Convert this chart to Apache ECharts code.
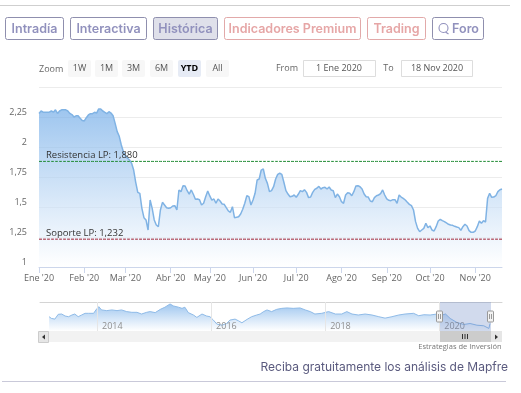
<!DOCTYPE html>
<html>
<head>
<meta charset="utf-8">
<style>html,body{margin:0;padding:0;background:#fff}#chart{width:521px;height:393px}</style>
<script src="https://cdn.jsdelivr.net/npm/echarts@6/dist/echarts.min.js"></script>
</head>
<body>
<div id="chart"></div>
<script>
// precios de cierre, un array por mes
var ene = [2.28,2.30,2.29,2.29,2.29,2.29,2.30,2.29,2.31,2.28,2.30,2.31,2.31,2.31,2.30,2.28,2.27,2.25,2.26,2.26,2.24,2.22];
var feb = [2.217,2.244,2.267,2.278,2.278,2.289,2.283,2.317,2.317,2.30,2.289,2.278,2.294,2.283,2.261,2.197,2.128,2.089,2.017,1.961];
var mar = [1.928,1.906,1.892,1.864,1.808,1.706,1.622,1.614,1.489,1.411,1.392,1.308,1.558,1.489,1.392,1.35,1.336,1.475,1.539,1.517,1.494,1.489];
var abr = [1.494,1.508,1.511,1.475,1.642,1.628,1.678,1.675,1.636,1.608,1.642,1.606,1.564,1.567,1.561,1.517,1.531,1.586,1.633];
var may = [1.592,1.558,1.567,1.531,1.567,1.55,1.525,1.522,1.494,1.467,1.456,1.503,1.411,1.414,1.419,1.442,1.481,1.531,1.594,1.586,1.517];
var jun = [1.558,1.614,1.725,1.733,1.808,1.817,1.739,1.697,1.628,1.636,1.669,1.733,1.772,1.781,1.772,1.706,1.636,1.608,1.586,1.589,1.6];
var jul = [1.581,1.606,1.636,1.628,1.644,1.622,1.578,1.583,1.622,1.647,1.656,1.672,1.65,1.661,1.664,1.65,1.667,1.642,1.636,1.578,1.608,1.586];
var ago = [1.544,1.531,1.6,1.619,1.614,1.594,1.628,1.675,1.678,1.669,1.65,1.608,1.586,1.583,1.55,1.544,1.578,1.594,1.6,1.611,1.642,1.6];
var sep = [1.567,1.556,1.553,1.561,1.561,1.531,1.6,1.583,1.572,1.558,1.539,1.522,1.511,1.475,1.378,1.322,1.294,1.308,1.322,1.364,1.328];
var oct = [1.342,1.308,1.3,1.336,1.383,1.397,1.386,1.378,1.367,1.356,1.35,1.347,1.339,1.333,1.328,1.306,1.336,1.356,1.342,1.303,1.289,1.289];
var nov = [1.3,1.336,1.383,1.364,1.386,1.375,1.572,1.614,1.581,1.583,1.594,1.628,1.644,1.65];

var monthNames = ["Ene '20","Feb '20","Mar '20","Abr '20","May '20","Jun '20","Jul '20","Ago '20","Sep '20","Oct '20","Nov '20"];
var months = [ene,feb,mar,abr,may,jun,jul,ago,sep,oct,nov];

var yTicks = [1,1.25,1.5,1.75,2,2.25];
var yTickLabels = ['1','1,25','1,5','1,75','2','2,25'];

var resistencia = 1.88;
var resistenciaLabel = 'Resistencia LP: 1,880';
var soporte = 1.232;
var soporteLabel = 'Soporte LP: 1,232';

// navegador: historico completo
var navYears = [2013.16,2013.20,2013.26,2013.32,2013.38,2013.44,2013.50,2013.56,2013.61,2013.67,2013.73,2013.79,2013.85,2013.94,2013.98,
  2014.03,2014.08,2014.17,2014.26,2014.35,2014.43,2014.52,2014.61,2014.70,2014.78,2014.87,2014.93,
  2015.02,2015.11,2015.19,2015.28,2015.34,2015.43,2015.49,2015.54,2015.60,2015.69,2015.75,2015.84,2015.92,2015.98,
  2016.04,2016.10,2016.19,2016.27,2016.33,2016.42,2016.48,2016.54,2016.63,2016.71,2016.80,2016.86,2016.92,2016.98,
  2017.06,2017.15,2017.24,2017.33,2017.44,2017.56,2017.65,2017.74,2017.82,2017.94,
  2018.06,2018.18,2018.29,2018.38,2018.47,2018.58,2018.70,2018.82,2018.94,
  2019.05,2019.17,2019.29,2019.40,2019.55,2019.64,2019.73,2019.84,2019.96,
  2020.05,2020.11,2020.19,2020.31,2020.43,2020.54,2020.66,2020.78,2020.87,2020.89];
var navValues = [2.11,1.99,1.94,2.28,2.30,2.16,2.11,2.23,2.30,2.11,2.23,2.35,2.35,2.35,2.59,
  2.82,2.59,2.54,2.59,2.54,2.59,2.47,2.42,2.42,2.30,2.42,2.47,
  2.40,2.63,2.78,3.01,2.87,2.78,2.70,2.78,2.40,2.23,2.06,2.30,2.16,2.11,
  1.87,1.59,1.51,1.63,1.87,1.94,1.82,1.68,1.92,2.11,2.23,2.30,2.47,2.59,
  2.47,2.63,2.70,2.73,2.70,2.73,2.59,2.47,2.30,2.35,
  2.47,2.30,2.30,2.47,2.30,2.23,2.30,2.23,2.11,
  2.01,2.11,2.23,2.30,2.35,2.18,2.25,2.23,2.30,
  2.23,2.30,1.99,1.70,1.56,1.63,1.51,1.47,1.28,1.63];
var navTicks = [2014,2016,2018,2020];

var tabs = [
  {name:'Intradía', x:5.5, w:58, premium:false},
  {name:'Interactiva', x:70.5, w:76, premium:false},
  {name:'Histórica', x:153.5, w:64, premium:false, active:true},
  {name:'Indicadores Premium', x:224.5, w:136, premium:true},
  {name:'Trading', x:367.5, w:58, premium:true},
  {name:'Foro', x:432.5, w:51, premium:false, icon:true}
];
var rangeButtons = [
  {name:'1W', x:68}, {name:'1M', x:95}, {name:'3M', x:122}, {name:'6M', x:150},
  {name:'YTD', x:178, active:true}, {name:'All', x:206}
];

var categories = [], closes = [], monthStarts = {};
months.forEach(function (m, i) {
  monthStarts[closes.length] = true;
  m.forEach(function (v) {
    categories.push(monthNames[i]);
    closes.push(v);
  });
});

var uiFont = 'Inter';
var chartFont = '"Open Sans"';

var graphics = [];
function rect(x, y, w, h, fill, stroke, r, z) {
  graphics.push({type:'rect', silent:true, z:z || 1, shape:{x:x, y:y, width:w, height:h, r:r || 0}, style:{fill:fill || 'none', stroke:stroke || 'none', lineWidth:1}});
}
function txt(s, x, y, size, color, align, weight, font, z) {
  graphics.push({type:'text', silent:true, z:z || 2, x:x, y:y, style:{text:s, fontSize:size, fill:color, align:align || 'center', verticalAlign:'middle', fontWeight:weight || 'normal', fontFamily:font || chartFont}});
}
function hline(x1, x2, y, color) {
  graphics.push({type:'line', silent:true, shape:{x1:x1, y1:y, x2:x2, y2:y}, style:{stroke:color, lineWidth:1}});
}
// linea de nivel: serie constante
function levelSeries(value, color) {
  return {
    type: 'line', xAxisIndex: 0, yAxisIndex: 0, z: 3, showSymbol: false,
    lineStyle: {color: color, type: [3, 1], width: 1},
    data: closes.map(function () { return value; })
  };
}

hline(0, 510, 5.5, '#cfcfcf');
hline(2, 506, 381.5, '#c9c9d9');

tabs.forEach(function (t) {
  var border = t.premium ? '#e2a9a9' : '#8f8fae';
  var color = t.premium ? '#e6a6a6' : '#9191bd';
  rect(t.x, 17.5, t.w, 22, t.active ? '#dfe0ea' : '#fff', border, 2);
  if (t.icon) {
    graphics.push({type:'circle', silent:true, z:2, shape:{cx:t.x + 11, cy:28, r:4.5}, style:{fill:'none', stroke:color, lineWidth:1.1}});
    graphics.push({type:'line', silent:true, z:2, shape:{x1:t.x + 13, y1:32, x2:t.x + 16, y2:34}, style:{stroke:color, lineWidth:1.1}});
    txt(t.name, t.x + 33, 29, 12.5, color, 'center', 600, uiFont);
  } else {
    txt(t.name, t.x + t.w / 2, 29, 12.5, color, 'center', 600, uiFont);
  }
});

txt('Zoom', 39, 69, 9, '#666', 'left');
rangeButtons.forEach(function (b) {
  rect(b.x, 60, 23, 17, b.active ? '#e6ebf5' : '#f7f7f7', null, 2);
  txt(b.name, b.x + 11.5, 68, 9, b.active ? '#000' : '#555', 'center', b.active ? 'bold' : 'normal');
});
txt('From', 287, 68, 9, '#666');
rect(303.5, 60.5, 72, 16, '#fff', '#ddd');
txt('1 Ene 2020', 339, 68, 9, '#555');
txt('To', 388.5, 68, 9, '#666');
rect(401.5, 60.5, 71, 16, '#fff', '#ddd');
txt('18 Nov 2020', 437, 68, 9, '#555');

// barra de desplazamiento del navegador
rect(39, 331, 463, 11, '#f2f2f2');
rect(38.5, 331.5, 10, 11, '#e6e6e6', '#ccc');
graphics.push({type:'polygon', silent:true, z:2, shape:{points:[[42,337],[45,334.5],[45,339.5]]}, style:{fill:'#333'}});
rect(491, 331, 11, 11, '#e6e6e6');
graphics.push({type:'polygon', silent:true, z:2, shape:{points:[[498,337],[495,334.5],[495,339.5]]}, style:{fill:'#333'}});
rect(440, 331, 51, 11, '#cccccc', null, 0, 2);
[462.5, 465, 467.5].forEach(function (x) {
  graphics.push({type:'line', silent:true, z:3, shape:{x1:x, y1:334, x2:x, y2:339}, style:{stroke:'#333', lineWidth:1}});
});
// ventana seleccionada y tiradores
rect(440, 302, 51, 29, 'rgba(102,133,194,0.3)', null, 0, 50);
[440, 491].forEach(function (x) {
  rect(x - 3.5, 311, 6, 11, '#f2f2f2', '#999', 1, 51);
  graphics.push({type:'line', silent:true, z:52, shape:{x1:x - 1.5, y1:314, x2:x - 1.5, y2:319}, style:{stroke:'#999', lineWidth:1}});
  graphics.push({type:'line', silent:true, z:52, shape:{x1:x + 0.5, y1:314, x2:x + 0.5, y2:319}, style:{stroke:'#999', lineWidth:1}});
});

txt('Estrategias de Inversión', 501.5, 347, 7.5, '#777', 'right');
txt('Reciba gratuitamente los análisis de Mapfre', 508, 367, 12, '#5a5a7e', 'right', 'normal', uiFont);

var chart = echarts.init(document.getElementById('chart'));
chart.setOption({
  animation: false,
  backgroundColor: '#fff',
  textStyle: {fontFamily: chartFont},
  grid: [
    {left: 39, right: 19, top: 87, height: 180},
    {left: 40, right: 19, top: 302, height: 29}
  ],
  xAxis: [
    {
      type: 'category', gridIndex: 0, data: categories, boundaryGap: false,
      axisLine: {lineStyle: {color: '#ccd6eb'}},
      axisTick: {length: 6, lineStyle: {color: '#ccd6eb'}, interval: function (i) { return !!monthStarts[i]; }},
      axisLabel: {color: '#666', fontSize: 9, margin: 7, hideOverlap: false, interval: function (i) { return !!monthStarts[i]; }}
    },
    {
      type: 'value', gridIndex: 1, min: 2013, max: 2021.1, z: 10,
      axisLine: {show: false},
      axisTick: {show: false, customValues: navTicks},
      splitLine: {show: true, lineStyle: {color: '#e6e6e6'}},
      axisLabel: {
        inside: true, customValues: navTicks, color: '#8f8f8f', fontSize: 9, margin: 0, align: 'left', padding: [0, 0, 0, 5],
        formatter: function (v) { return String(v); }
      }
    },
    {
      type: 'value', gridIndex: 1, position: 'top', min: 2013, max: 2021.1,
      axisLine: {show: true, lineStyle: {color: '#d4d4d4'}},
      axisTick: {show: false}, splitLine: {show: false}, axisLabel: {show: false}
    }
  ],
  yAxis: [
    {
      type: 'value', gridIndex: 0, min: 1, max: 2.5, interval: 0.25,
      axisLine: {show: false}, axisTick: {show: false},
      splitLine: {lineStyle: {color: '#ececec'}},
      axisLabel: {
        color: '#666', fontSize: 9, margin: 12, verticalAlign: 'bottom',
        formatter: function (v) {
          var i = yTicks.indexOf(v);
          return i < 0 ? '' : yTickLabels[i];
        }
      }
    },
    {
      type: 'value', gridIndex: 1, min: 1.1, max: 3.15,
      axisLine: {show: false}, axisTick: {show: false}, splitLine: {show: false}, axisLabel: {show: false}
    }
  ],
  series: [
    {
      type: 'line', xAxisIndex: 0, yAxisIndex: 0, data: closes,
      showSymbol: false, smooth: false,
      lineStyle: {color: '#80b3e4', width: 1.5},
      areaStyle: {
        origin: 'start',
        color: new echarts.graphic.LinearGradient(0, 0, 0, 1, [
          {offset: 0, color: '#74ade8'},
          {offset: 1, color: 'rgba(255,255,255,0.9)'}
        ])
      }
    },
    levelSeries(resistencia, '#1f8a33'),
    levelSeries(soporte, '#9e1f33'),
    {
      type: 'line', xAxisIndex: 1, yAxisIndex: 1,
      data: navYears.map(function (y, i) { return [y, navValues[i]]; }),
      showSymbol: false,
      lineStyle: {color: '#8fbbe8', width: 1},
      areaStyle: {
        origin: 'start',
        color: new echarts.graphic.LinearGradient(0, 0, 0, 1, [
          {offset: 0, color: '#74ade8'},
          {offset: 1, color: 'rgba(255,255,255,0.9)'}
        ])
      }
    }
  ]
});

// etiquetas de nivel, colocadas con la escala del eje
txt(resistenciaLabel, 46, chart.convertToPixel({yAxisIndex: 0}, resistencia) - 6, 9.5, '#333', 'left', 'normal', chartFont, 20);
txt(soporteLabel, 46, chart.convertToPixel({yAxisIndex: 0}, soporte) - 6, 9.5, '#333', 'left', 'normal', chartFont, 20);
chart.setOption({graphic: graphics});
</script>
</body>
</html>
